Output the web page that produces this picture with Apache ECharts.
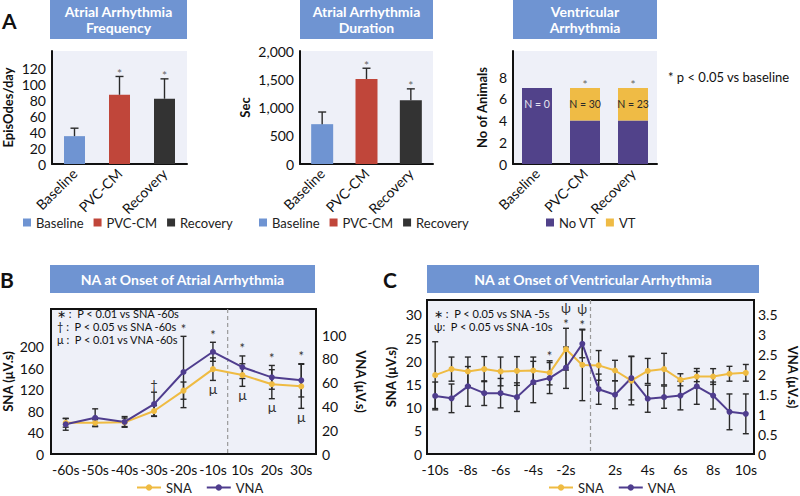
<!DOCTYPE html>
<html>
<head>
<meta charset="utf-8">
<script src="https://cdn.jsdelivr.net/npm/echarts@6/dist/echarts.min.js"></script>
<style>
body{margin:0;background:#fff;}
#main{width:800px;height:496px;}
</style>
</head>
<body>
<div id="main"></div>
<script>
var groups = ['Baseline', 'PVC-CM', 'Recovery'];
var freqMean = [35, 87, 82];
var freqErr = [10, 23, 25];
var freqSig = ['', '*', '*'];
var durMean = [705, 1505, 1130];
var durErr = [215, 190, 200];
var durSig = ['', '*', '*'];
var noVT = [7, 4, 4];
var vt = [0, 3, 3];
var vtLabels = ['N = 0', 'N = 30', 'N = 23'];
var vtSig = ['', '*', '*'];

var bTimes = ['-60s', '-50s', '-40s', '-30s', '-20s', '-10s', '10s', '20s', '30s'];
var bSNA = [58, 58, 59, 80, 118, 158, 147, 130, 126];
var bSNAErr = [8, 6, 8, 10, 16, 21, 21, 27, 41];
var bVNA = [25, 30.5, 27, 42, 69, 86, 73, 64.5, 62];
var bVNAErr = [5, 7.5, 4.5, 10, 30, 8, 9.5, 10, 14];
var bTopMark = ['', '', '', '†', '*', '*', '*', '*', '*'];
var bBottomMark = ['', '', '', '', '', 'μ', 'μ', 'μ', 'μ'];
var bDivider = [5];

var cTimes = ['-10s', '-9s', '-8s', '-7s', '-6s', '-5s', '-4s', '-3s', '-2s', '-1s',
	'1s', '2s', '3s', '4s', '5s', '6s', '7s', '8s', '9s', '10s'];
var cSNA = [17.0, 18.3, 17.8, 18.3, 17.8, 17.9, 18.0, 17.5, 22.6, 19.2, 19.1, 18.0, 15.8, 17.9, 18.3, 16.0, 16.7, 16.7, 17.3, 17.5];
var cSNAErr = [7.2, 2.6, 3.1, 2.7, 3.1, 3.1, 2.9, 2.6, 4.5, 7.7, 3.2, 2.2, 5.2, 2.7, 3.4, 1.3, 1.1, 1.7, 1.6, 1.8];
var cVNA = [1.46, 1.40, 1.70, 1.53, 1.53, 1.43, 1.81, 1.91, 2.17, 2.77, 1.63, 1.49, 1.91, 1.39, 1.43, 1.47, 1.70, 1.47, 1.06, 1.01];
var cVNAErr = [0.35, 0.36, 0.5, 0.31, 0.37, 0.36, 0.52, 0.39, 0.52, 0.35, 0.38, 0.35, 0.55, 0.34, 0.28, 0.36, 0.45, 0.34, 0.45, 0.5];
var cTopMark = ['', '', '', '', '', '', '', '*', '*', '*', '', '', '', '', '', '', '', '', '', ''];
var cPsiMark = ['', '', '', '', '', '', '', '', 'ψ', 'ψ', '', '', '', '', '', '', '', '', '', ''];
var cDivider = [9];

var FONT = 'Lato, "Open Sans", sans-serif';
var cBlue = '#6f94d2', cRed = '#c0463a', cDark = '#333333';
var cNoVT = '#51428a', cVT = '#efbb45';
var cSNAc = '#efbb42', cVNAc = '#4f3d8e';
var plotBg = '#eef0f8';

var chart = echarts.init(document.getElementById('main'), null, {renderer: 'svg'});

function markText(x, y, text, va, color, size){
	return {type: 'text', x: x, y: y, style: {
		text: text, align: 'center', verticalAlign: va, textAlign: 'center', textVerticalAlign: va,
		fill: color, font: size + 'px ' + FONT
	}};
}

function errorBar(mean, err, opts){
	return function(params, api){
		var i = params.dataIndex;
		var x = api.coord([i, 0])[0];
		var hi = api.coord([i, mean[i] + err[i]])[1];
		var lo = api.coord([i, opts.upOnly ? mean[i] : mean[i] - err[i]])[1];
		var w = opts.cap;
		var st = {stroke: '#2a2a2a', lineWidth: opts.lw || 1.4};
		var kids = [
			{type: 'line', shape: {x1: x, y1: hi, x2: x, y2: lo}, style: st},
			{type: 'line', shape: {x1: x - w, y1: hi, x2: x + w, y2: hi}, style: st}
		];
		if(!opts.upOnly){
			kids.push({type: 'line', shape: {x1: x - w, y1: lo, x2: x + w, y2: lo}, style: st});
		}
		if(opts.top && opts.top[i]){
			kids.push(markText(x, hi - (opts.topGap || 0), opts.top[i], 'bottom', opts.markColor || '#333', opts.markSize || 13));
		}
		if(opts.psi && opts.psi[i]){
			kids.push(markText(x, hi - 14, opts.psi[i], 'bottom', '#333', 13));
		}
		if(opts.bottom && opts.bottom[i]){
			kids.push(markText(x, lo + 1, opts.bottom[i], 'top', '#333', 14));
		}
		return {type: 'group', children: kids};
	};
}

function divider(params, api){
	var idx = api.value(0);
	var x = (api.coord([idx, 0])[0] + api.coord([idx + 1, 0])[0]) / 2;
	var cs = params.coordSys;
	return {type: 'line', shape: {x1: x, y1: cs.y, x2: x, y2: cs.y + cs.height},
		style: {stroke: '#9a9a9a', lineWidth: 1.2, lineDash: [4, 3]}};
}

function idxData(arr){
	return arr.map(function(v, i){ return [i, v]; });
}

function onlyAt(values, i){
	return values.map(function(v, j){ return j === i ? v : '-'; });
}

var catAxisA = function(grid){
	return {
		type: 'category', gridIndex: grid, data: groups,
		axisLine: {lineStyle: {color: '#111', width: 2}},
		axisTick: {show: false},
		axisLabel: {rotate: 45, fontSize: 14, color: '#111', fontFamily: FONT, margin: 7, interval: 0}
	};
};
var valAxisA = function(grid, max, interval, name, gap, fmt){
	return {
		type: 'value', gridIndex: grid, min: 0, max: max, interval: interval,
		name: name, nameLocation: 'middle', nameGap: gap,
		nameTextStyle: {fontSize: 13, fontWeight: 'bold', color: '#111', fontFamily: FONT},
		axisLine: {show: true, lineStyle: {color: '#111', width: 2}},
		axisTick: {show: false},
		splitLine: {show: false},
		axisLabel: {fontSize: 14, color: '#111', fontFamily: FONT, margin: 6, formatter: fmt}
	};
};

var legendText = {fontSize: 13, color: '#222', fontFamily: FONT};

var series = [];
groups.forEach(function(g, i){
	series.push({
		name: g, type: 'bar', xAxisIndex: 0, yAxisIndex: 0, barWidth: 21, barGap: '-100%',
		itemStyle: {color: [cBlue, cRed, cDark][i]}, data: onlyAt(freqMean, i)
	});
	series.push({
		name: g, type: 'bar', xAxisIndex: 1, yAxisIndex: 1, barWidth: 22, barGap: '-100%',
		itemStyle: {color: [cBlue, cRed, cDark][i]}, data: onlyAt(durMean, i)
	});
});
series.push({type: 'custom', xAxisIndex: 0, yAxisIndex: 0, z: 5, data: idxData(freqMean),
	renderItem: errorBar(freqMean, freqErr, {upOnly: true, cap: 4, top: freqSig, topGap: -3, markColor: '#666', markSize: 12})});
series.push({type: 'custom', xAxisIndex: 1, yAxisIndex: 1, z: 5, data: idxData(durMean),
	renderItem: errorBar(durMean, durErr, {upOnly: true, cap: 4, top: durSig, topGap: -3, markColor: '#666', markSize: 12})});

series.push({name: 'No VT', type: 'bar', xAxisIndex: 2, yAxisIndex: 2, stack: 'vt', barWidth: 30,
	itemStyle: {color: cNoVT}, data: noVT});
series.push({name: 'VT', type: 'bar', xAxisIndex: 2, yAxisIndex: 2, stack: 'vt', barWidth: 30,
	itemStyle: {color: cVT}, data: vt});
series.push({type: 'custom', xAxisIndex: 2, yAxisIndex: 2, z: 5, data: idxData(noVT),
	renderItem: function(params, api){
		var i = params.dataIndex;
		var total = noVT[i] + vt[i];
		var p = api.coord([i, total - 1.5]);
		var top = api.coord([i, total]);
		var kids = [markText(p[0], p[1], vtLabels[i], 'middle', vt[i] > 0 ? '#2a2a2a' : '#e6e4f0', 10.5)];
		if(vtSig[i]){
			kids.push(markText(top[0], top[1] + 3, vtSig[i], 'bottom', '#666', 12));
		}
		return {type: 'group', children: kids};
	}});

// B
series.push({type: 'custom', xAxisIndex: 3, yAxisIndex: 3, z: 1, data: bDivider.map(function(v){ return [v]; }), renderItem: divider});
series.push({type: 'custom', xAxisIndex: 3, yAxisIndex: 3, z: 2, data: idxData(bSNA),
	renderItem: errorBar(bSNA, bSNAErr, {cap: 3, bottom: bBottomMark})});
series.push({type: 'custom', xAxisIndex: 3, yAxisIndex: 4, z: 2, data: idxData(bVNA),
	renderItem: errorBar(bVNA, bVNAErr, {cap: 3, top: bTopMark, topGap: 1})});
series.push({name: 'SNA', type: 'line', xAxisIndex: 3, yAxisIndex: 3, z: 4, symbol: 'circle', symbolSize: 6,
	itemStyle: {color: cSNAc}, lineStyle: {color: cSNAc, width: 2}, data: bSNA});
series.push({name: 'VNA', type: 'line', xAxisIndex: 3, yAxisIndex: 4, z: 4, symbol: 'circle', symbolSize: 6,
	itemStyle: {color: cVNAc}, lineStyle: {color: cVNAc, width: 2}, data: bVNA});

// C
series.push({type: 'custom', xAxisIndex: 4, yAxisIndex: 5, z: 1, data: cDivider.map(function(v){ return [v]; }), renderItem: divider});
series.push({type: 'custom', xAxisIndex: 4, yAxisIndex: 5, z: 2, data: idxData(cSNA),
	renderItem: errorBar(cSNA, cSNAErr, {cap: 3, top: cTopMark, psi: cPsiMark, topGap: -2})});
series.push({type: 'custom', xAxisIndex: 4, yAxisIndex: 6, z: 2, data: idxData(cVNA),
	renderItem: errorBar(cVNA, cVNAErr, {cap: 3})});
series.push({name: 'SNA', type: 'line', xAxisIndex: 4, yAxisIndex: 5, z: 4, symbol: 'circle', symbolSize: 6,
	itemStyle: {color: cSNAc}, lineStyle: {color: cSNAc, width: 2}, data: cSNA});
series.push({name: 'VNA', type: 'line', xAxisIndex: 4, yAxisIndex: 6, z: 4, symbol: 'circle', symbolSize: 6,
	itemStyle: {color: cVNAc}, lineStyle: {color: cVNAc, width: 2}, data: cVNA});

var naLabel = {fontSize: 14, color: '#111', fontFamily: FONT};
var naName = {fontSize: 13, fontWeight: 'bold', color: '#111', fontFamily: FONT};

function titleBox(x, y, w, h, text){
	return {type: 'group', children: [
		{type: 'rect', shape: {x: x, y: y, width: w, height: h}, style: {fill: cBlue}},
		{type: 'text', x: x + w / 2, y: y + h / 2, style: {text: text, fill: '#fff', font: 'bold 14px ' + FONT,
			lineHeight: 16, align: 'center', verticalAlign: 'middle', textAlign: 'center', textVerticalAlign: 'middle'}}
	]};
}
function note(x, y, text, size){
	return {type: 'text', x: x, y: y, style: {text: text, fill: '#111', font: (size || 12) + 'px ' + FONT,
		verticalAlign: 'middle', textVerticalAlign: 'middle'}};
}
function panelLetter(x, y, t){
	return {type: 'text', x: x, y: y, style: {text: t, fill: '#111', font: 'bold 21px ' + FONT,
		verticalAlign: 'middle', textVerticalAlign: 'middle'}};
}

var option = {
	animation: false,
	backgroundColor: '#fff',
	grid: [
		{left: 50, top: 51, width: 137, height: 113, show: true, backgroundColor: plotBg, borderWidth: 0},
		{left: 300, top: 51, width: 133, height: 113, show: true, backgroundColor: plotBg, borderWidth: 0},
		{left: 513, top: 51, width: 144, height: 113, show: true, backgroundColor: plotBg, borderWidth: 0},
		{left: 50, top: 309, width: 266, height: 145, show: true, backgroundColor: plotBg, borderColor: '#111', borderWidth: 2},
		{left: 427, top: 300, width: 332, height: 154, show: true, backgroundColor: plotBg, borderColor: '#111', borderWidth: 2}
	],
	xAxis: [
		catAxisA(0), catAxisA(1), catAxisA(2),
		{type: 'category', gridIndex: 3, data: bTimes, axisLine: {show: false}, axisTick: {show: false},
			axisLabel: {fontSize: 14, color: '#111', fontFamily: FONT, margin: 8, interval: 0}},
		{type: 'category', gridIndex: 4, data: cTimes, axisLine: {show: false}, axisTick: {show: false},
			axisLabel: {fontSize: 14, color: '#111', fontFamily: FONT, margin: 8,
				interval: function(index, value){ return Math.abs(parseInt(value, 10)) % 2 === 0; }}}
	],
	yAxis: [
		valAxisA(0, 142, 20, 'EpisOdes/day', 38, function(v){ return v > 120 ? '' : v; }),
		valAxisA(1, 2000, 500, 'Sec', 49, function(v){ return String(v).replace(/\B(?=(\d{3})+(?!\d))/g, ','); }),
		valAxisA(2, 10.4, 2, 'No of Animals', 25, function(v){ return v > 8 ? '' : v; }),
		{type: 'value', gridIndex: 3, min: 0, max: 270, interval: 40, name: 'SNA (μV.s)', nameLocation: 'middle', nameGap: 37,
			nameTextStyle: naName, axisLine: {show: false}, axisTick: {show: false}, splitLine: {show: false},
			axisLabel: Object.assign({margin: 7, formatter: function(v){ return v > 200 ? '' : v; }}, naLabel)},
		{type: 'value', gridIndex: 3, position: 'right', min: 0, max: 122, interval: 20, name: 'VNA (μV.s)', nameLocation: 'middle',
			nameGap: 38, nameRotate: -90, nameTextStyle: naName, axisLine: {show: false}, axisTick: {show: false}, splitLine: {show: false},
			axisLabel: Object.assign({margin: 6, formatter: function(v){ return v > 100 ? '' : v; }}, naLabel)},
		{type: 'value', gridIndex: 4, min: 0, max: 33.2, interval: 5, name: 'SNA (μV.s)', nameLocation: 'middle', nameGap: 30,
			nameTextStyle: naName, axisLine: {show: false}, axisTick: {show: false}, splitLine: {show: false},
			axisLabel: Object.assign({margin: 5, formatter: function(v){ return v > 30 ? '' : v; }}, naLabel)},
		{type: 'value', gridIndex: 4, position: 'right', min: 0, max: 3.873, interval: 0.5, name: 'VNA (μV.s)', nameLocation: 'middle',
			nameGap: 32, nameRotate: -90, nameTextStyle: naName, axisLine: {show: false}, axisTick: {show: false}, splitLine: {show: false},
			axisLabel: Object.assign({margin: 4, formatter: function(v){ return v > 3.5 ? '' : v; }}, naLabel)}
	],
	legend: [
		{data: groups, left: 18, top: 211, icon: 'rect', itemWidth: 8, itemHeight: 8, itemGap: 10, textStyle: legendText, selectedMode: false},
		{data: groups, left: 254, top: 211, icon: 'rect', itemWidth: 8, itemHeight: 8, itemGap: 10, textStyle: legendText, selectedMode: false},
		{data: ['No VT', 'VT'], left: 541, top: 211, icon: 'rect', itemWidth: 8, itemHeight: 8, itemGap: 10, textStyle: legendText, selectedMode: false},
		{data: ['SNA', 'VNA'], left: 131, top: 476, itemWidth: 24, itemHeight: 8, itemGap: 14, textStyle: legendText, selectedMode: false},
		{data: ['SNA', 'VNA'], left: 543, top: 476, itemWidth: 24, itemHeight: 8, itemGap: 14, textStyle: legendText, selectedMode: false}
	],
	graphic: [
		panelLetter(2, 20, 'A'),
		panelLetter(0, 279, 'B'),
		panelLetter(383, 279, 'C'),
		titleBox(50, 0, 137, 39, 'Atrial Arrhythmia\nFrequency'),
		titleBox(300, 0, 133, 39, 'Atrial Arrhythmia\nDuration'),
		titleBox(513, 0, 144, 39, 'Ventricular\nArrhythmia'),
		titleBox(50, 265, 265, 28, 'NA at Onset of Atrial Arrhythmia'),
		titleBox(427, 265, 332, 28, 'NA at Onset of Ventricular Arrhythmia'),
		note(668, 77, '* p < 0.05 vs baseline', 13),
		note(57, 313, '∗ :  P < 0.01 vs SNA -60s', 11),
		note(57, 326, '† :  P < 0.05 vs SNA -60s', 11),
		note(57, 339, 'μ :  P < 0.01 vs VNA -60s', 11),
		note(434, 313, '∗ :  P < 0.05 vs SNA -5s', 11),
		note(434, 326, 'ψ:  P < 0.05 vs SNA -10s', 11)
	],
	series: series
};
chart.setOption(option);
</script>
</body>
</html>
